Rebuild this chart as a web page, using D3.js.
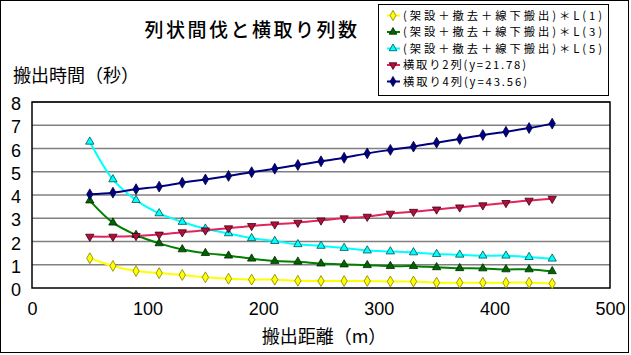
<!DOCTYPE html>
<html><head><meta charset="utf-8">
<script src="https://cdn.jsdelivr.net/npm/d3@7/dist/d3.min.js"></script>
<style>
html,body{margin:0;padding:0;background:#fff;}
svg text{font-family:"Noto Sans CJK JP","Liberation Sans",sans-serif;fill:#000;}
svg text.num{font-family:"Liberation Sans",sans-serif;}
</style></head>
<body>
<svg id="c" width="631" height="355"></svg>
<script>
const title = "列状間伐と横取り列数";
const yTitle = "搬出時間（秒）";
const xTitle = "搬出距離（m）";
const distances = [50,70,90,110,130,150,170,190,210,230,250,270,290,310,330,350,370,390,410,430,450];
const xTicks = [0,100,200,300,400,500];
const yTicks = [0,1,2,3,4,5,6,7,8];
const seriesNames = ["(架設＋撤去＋線下搬出)＊L(1)","(架設＋撤去＋線下搬出)＊L(3)","(架設＋撤去＋線下搬出)＊L(5)","横取り2列(y=21.78)","横取り4列(y=43.56)"];
const valsL1 = [1.28,0.95,0.73,0.64,0.56,0.46,0.40,0.36,0.36,0.31,0.30,0.30,0.30,0.28,0.28,0.23,0.23,0.23,0.23,0.23,0.19];
const valsL3 = [3.76,2.81,2.28,1.92,1.66,1.50,1.39,1.26,1.16,1.13,1.05,1.01,0.98,0.94,0.94,0.89,0.85,0.84,0.80,0.80,0.72];
const valsL5 = [6.29,4.67,3.78,3.21,2.84,2.55,2.35,2.14,2.02,1.88,1.81,1.72,1.61,1.57,1.53,1.46,1.43,1.39,1.39,1.33,1.26];
const vals2 = [2.21,2.21,2.24,2.30,2.40,2.48,2.57,2.67,2.74,2.81,2.91,3.00,3.07,3.20,3.28,3.38,3.47,3.56,3.66,3.76,3.84];
const vals4 = [4.03,4.10,4.25,4.36,4.53,4.67,4.82,4.98,5.13,5.29,5.45,5.60,5.79,5.94,6.08,6.25,6.41,6.58,6.72,6.88,7.07];
const lineColors = ["#FFFF00","#008000","#00FFFF","#E0245E","#000080"];
const markerFill = ["#FFFF00","#006400","#00FFFF","#B0103C","#000080"];
const markerStroke = ["#808000","#002800","#005050","#400010","#000040"];
const markerType = [d3.symbolDiamond,d3.symbolTriangle,d3.symbolTriangle,"down",d3.symbolDiamond];
const legendWidths = [199,199,199,123,124];

const svg = d3.select("#c");
const M = {l:32,t:102,r:610,b:288};
const x = d3.scaleLinear().domain([0,500]).range([M.l,M.r]);
const y = d3.scaleLinear().domain([0,8]).range([M.b,M.t]);

svg.append("rect").attr("x",0.5).attr("y",0.5).attr("width",628).attr("height",352)
  .attr("fill","#fff").attr("stroke","#000").attr("stroke-width",1);

svg.append("text").attr("x",252).attr("y",37).attr("text-anchor","middle")
  .attr("font-size",19).attr("letter-spacing",2.5).attr("font-weight",500).text(title);
svg.append("text").attr("x",13).attr("y",82).attr("font-size",18).text(yTitle);
svg.append("text").attr("x",(M.l+M.r)/2+3).attr("y",343).attr("text-anchor","middle").attr("font-size",18).text(xTitle);

// gridlines
svg.append("g").selectAll("line").data(yTicks.filter(d=>d>0)).join("line")
  .attr("x1",M.l).attr("x2",M.r).attr("y1",d=>y(d)).attr("y2",d=>y(d))
  .attr("stroke","#808080").attr("stroke-width",1.5);

// axes
const yAxis = d3.axisLeft(y).tickValues(yTicks).tickSize(0).tickPadding(11);
const gy = svg.append("g").attr("transform",`translate(${M.l},0)`).call(yAxis);
gy.select(".domain").remove();
gy.selectAll("text").attr("class","num").attr("font-size",18).attr("dy","0.42em");
const xAxis = d3.axisBottom(x).tickValues(xTicks).tickSize(0).tickPadding(14);
const gx = svg.append("g").attr("transform",`translate(0,${M.b})`).call(xAxis);
gx.select(".domain").remove();
gx.selectAll("text").attr("class","num").attr("font-size",18);

svg.append("rect").attr("x",M.l).attr("y",M.t).attr("width",M.r-M.l).attr("height",M.b-M.t)
  .attr("fill","none").attr("stroke","#000").attr("stroke-width",1.5);

const all = [valsL1,valsL3,valsL5,vals2,vals4];
const line = d3.line().x((d,i)=>x(distances[i])).y(d=>y(d)).curve(d3.curveCatmullRom.alpha(0.5));

function sym(t, size){
  if(t==="down") return d3.symbol().type(d3.symbolTriangle).size(size)();
  return d3.symbol().type(t).size(size)();
}

all.forEach((vals,k)=>{
  svg.append("path").datum(vals).attr("d",line).attr("fill","none")
    .attr("stroke",lineColors[k]).attr("stroke-width",2);
});
all.forEach((vals,k)=>{
  svg.append("g").selectAll("path").data(vals).join("path")
    .attr("d",sym(markerType[k], markerType[k]===d3.symbolDiamond?34:30))
    .attr("transform",(d,i)=>`translate(${x(distances[i])},${y(d)})`+(markerType[k]==="down"?" rotate(180)":""))
    .attr("fill",markerFill[k]).attr("stroke",markerStroke[k]).attr("stroke-width",0.8);
});

// legend
const lg = svg.append("g");
lg.append("rect").attr("x",378.5).attr("y",4.5).attr("width",230).attr("height",91)
  .attr("fill","#fff").attr("stroke","#000").attr("stroke-width",1);
seriesNames.forEach((n,k)=>{
  const cy = 15.5 + k*16.5;
  lg.append("line").attr("x1",387).attr("x2",400).attr("y1",cy).attr("y2",cy)
    .attr("stroke",lineColors[k]).attr("stroke-width",2);
  lg.append("path").attr("d",sym(markerType[k], markerType[k]===d3.symbolDiamond?30:26))
    .attr("transform",`translate(393,${cy})`+(markerType[k]==="down"?" rotate(180)":""))
    .attr("fill",markerFill[k]).attr("stroke",markerStroke[k]).attr("stroke-width",0.8);
  lg.append("text").attr("x",403).attr("y",cy+4.3).attr("font-size",11.3)
    .attr("textLength",legendWidths[k]).attr("lengthAdjust","spacing").text(n);
});
</script>
</body></html>
